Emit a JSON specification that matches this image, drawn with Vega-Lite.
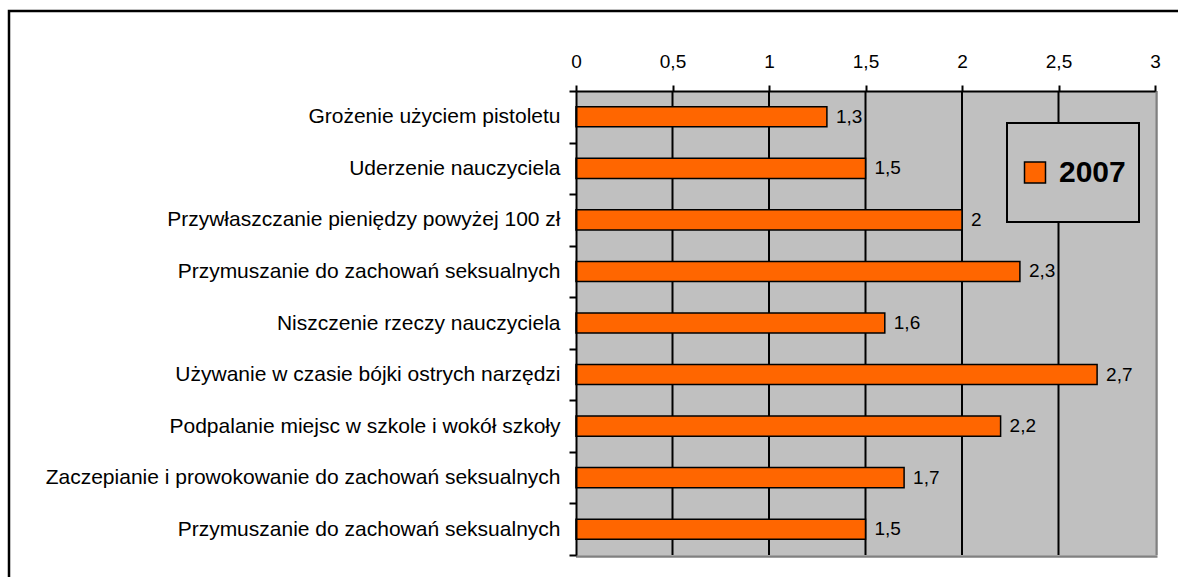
{
  "$schema": "https://vega.github.io/schema/vega-lite/v6.json",
  "width": 1172,
  "height": 569,
  "autosize": {"type": "none"},
  "padding": {"left": 9, "top": 11, "right": -3, "bottom": -3},
  "background": "white",
  "config": {
    "locale": {"number": {"decimal": ",", "thousands": " ", "grouping": [3], "currency": ["", " zł"]}},
    "font": "Liberation Sans",
    "view": {"stroke": "black", "strokeWidth": 2.5, "fill": "white"},
    "legend": {"strokeWidth": 2}
  },
  "resolve": {"scale": {"y": "independent"}},
  "layer": [
    {
      "layer": [
        {
          "data": {"values": [{}]},
          "mark": {"type": "rect", "fill": "#C0C0C0"},
          "encoding": {
            "x": {"datum": 0, "type": "quantitative", "scale": {"domain": [0, 3], "range": [567, 1146]}},
            "x2": {"datum": 3},
            "y": {"datum": 0, "type": "quantitative", "scale": {"domain": [0, 1], "range": [80, 544]}, "axis": null},
            "y2": {"datum": 1}
          }
        },
        {
          "data": {"values": [{"v": 0.5}, {"v": 1}, {"v": 1.5}, {"v": 2}, {"v": 2.5}]},
          "mark": {"type": "rule", "stroke": "black", "strokeWidth": 2},
          "encoding": {
            "x": {"field": "v", "type": "quantitative"},
            "y": {"datum": 0, "type": "quantitative"},
            "y2": {"datum": 1}
          }
        },
        {
          "data": {"values": [{}]},
          "mark": {"type": "rule", "stroke": "#808080", "strokeWidth": 2.5, "xOffset": 1.5},
          "encoding": {
            "x": {"datum": 3, "type": "quantitative"},
            "y": {"datum": 0, "type": "quantitative"},
            "y2": {"datum": 1}
          }
        },
        {
          "data": {"values": [{}]},
          "mark": {"type": "rule", "stroke": "#808080", "strokeWidth": 2.5, "yOffset": 1.5, "x2Offset": 2.5},
          "encoding": {
            "x": {"datum": 0, "type": "quantitative"},
            "x2": {"datum": 3},
            "y": {"datum": 1, "type": "quantitative"}
          }
        }
      ]
    },
    {
      "data": {
        "values": [
          {"cat": "Grożenie użyciem pistoletu", "value": 1.3, "year": "2007"},
          {"cat": "Uderzenie nauczyciela", "value": 1.5, "year": "2007"},
          {"cat": "Przywłaszczanie pieniędzy powyżej 100 zł", "value": 2, "year": "2007"},
          {"cat": "Przymuszanie do zachowań seksualnych ", "value": 2.3, "year": "2007"},
          {"cat": "Niszczenie rzeczy nauczyciela ", "value": 1.6, "year": "2007"},
          {"cat": "Używanie w czasie  bójki ostrych narzędzi ", "value": 2.7, "year": "2007"},
          {"cat": "Podpalanie miejsc w szkole i wokół szkoły", "value": 2.2, "year": "2007"},
          {"cat": "Zaczepianie i prowokowanie do zachowań seksualnych ", "value": 1.7, "year": "2007"},
          {"cat": "Przymuszanie do zachowań seksualnych", "value": 1.5, "year": "2007"}
        ]
      },
      "encoding": {
        "y": {
          "field": "cat",
          "type": "nominal",
          "sort": null,
          "scale": {"range": [80, 544], "paddingInner": 0, "paddingOuter": 0},
          "axis": {
            "orient": "left",
            "offset": -567,
            "title": null,
            "zindex": 1,
            "tickBand": "extent",
            "domainColor": "black",
            "domainWidth": 2,
            "tickColor": "black",
            "tickWidth": 2,
            "tickSize": 7,
            "labelPadding": 9,
            "labelFontSize": 21,
            "labelColor": "black",
            "labelLimit": 800
          }
        }
      },
      "layer": [
        {
          "mark": {"type": "bar", "height": {"band": 0.39}, "stroke": "black", "strokeWidth": 1.5},
          "encoding": {
            "x": {
              "field": "value",
              "type": "quantitative",
              "scale": {"domain": [0, 3], "range": [567, 1146]},
              "axis": {
                "orient": "top",
                "offset": -80,
                "title": null,
                "zindex": 1,
                "values": [0, 0.5, 1, 1.5, 2, 2.5, 3],
                "format": ".1~f",
                "grid": false,
                "labelFlush": false,
                "domainColor": "black",
                "domainWidth": 2,
                "tickColor": "black",
                "tickWidth": 2,
                "tickSize": 6,
                "labelPadding": 14,
                "labelFontSize": 19,
                "labelColor": "black"
              }
            },
            "color": {
              "field": "year",
              "type": "nominal",
              "scale": {"range": ["#FF6600"]},
              "legend": {
                "orient": "none",
                "legendX": 998,
                "legendY": 112,
                "title": null,
                "padding": 13,
                "fillColor": "#C0C0C0",
                "strokeColor": "black",
                "symbolType": "square",
                "symbolSize": 441,
                "symbolStrokeColor": "black",
                "symbolStrokeWidth": 1.5,
                "symbolOpacity": 1,
                "labelFontSize": 30,
                "labelFontWeight": "bold",
                "labelColor": "black",
                "labelOffset": 9,
                "clipHeight": 73
              }
            }
          }
        },
        {
          "mark": {"type": "text", "align": "left", "baseline": "middle", "dx": 9, "fontSize": 19, "color": "black"},
          "encoding": {
            "x": {"field": "value", "type": "quantitative"},
            "text": {"field": "value", "type": "quantitative", "format": ".1~f"}
          }
        }
      ]
    }
  ]
}
